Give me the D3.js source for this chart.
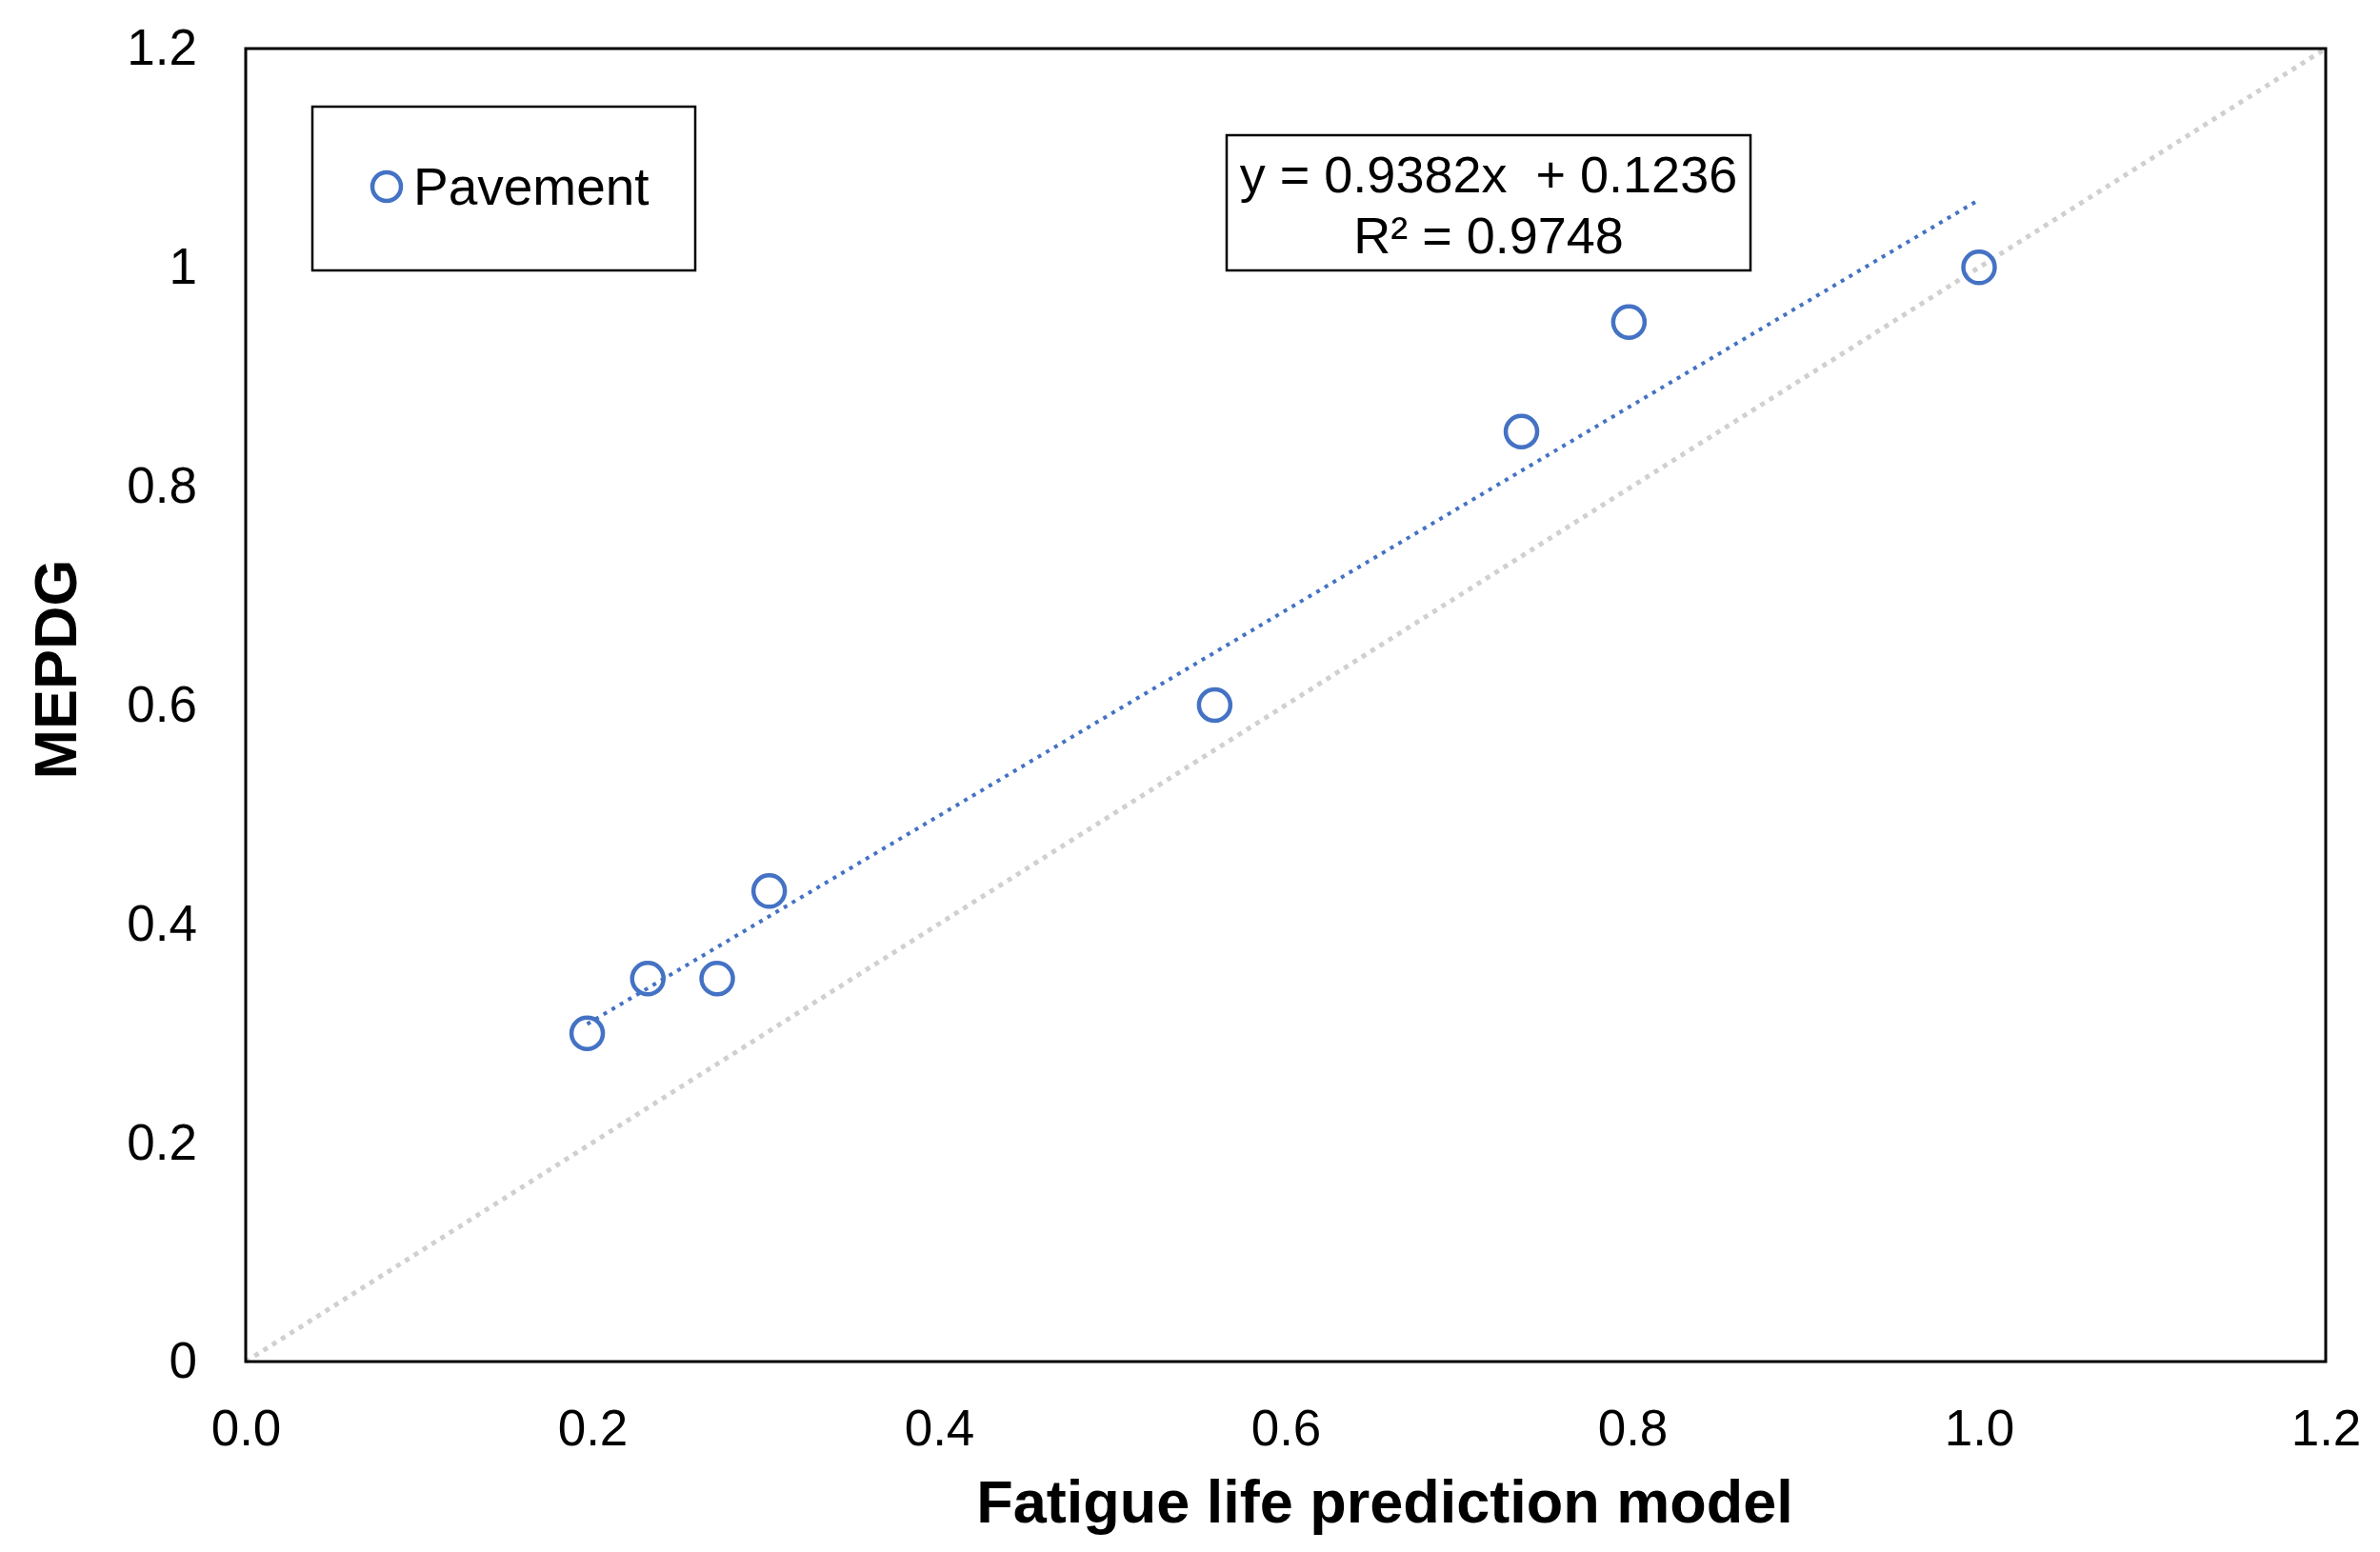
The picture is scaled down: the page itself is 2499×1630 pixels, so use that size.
<!DOCTYPE html>
<html>
<head>
<meta charset="utf-8">
<script src="https://cdn.jsdelivr.net/npm/d3@7"></script>
<style>
  body { margin: 0; background: #fff; }
  svg { display: block; }
</style>
</head>
<body>
<svg id="chart" width="2499" height="1630"></svg>
<script>
// data
var seriesName = "Pavement";
var fatigueX = [0.197, 0.232, 0.272, 0.302, 0.559, 0.736, 0.798, 1.0];
var mepdgY   = [0.30, 0.35, 0.35, 0.43, 0.60, 0.85, 0.95, 1.0];
var xTicks = [0, 0.2, 0.4, 0.6, 0.8, 1.0, 1.2];
var yTicks = [0, 0.2, 0.4, 0.6, 0.8, 1.0, 1.2];
var trendSlope = 0.9382, trendIntercept = 0.1236, trendR2 = 0.9748;
var identityLine = [0, 1.2];

var svg = d3.select("#chart");
var font = "'Liberation Sans', Arial, sans-serif";
var blue = "#4472C4";

// plot area edges (note: "top" is reserved on window, so plotTop etc.)
var plotLeft = 258, plotRight = 2442, plotTop = 51, plotBottom = 1430;

var x = d3.scaleLinear().domain([0, 1.2]).range([plotLeft, plotRight]);
var y = d3.scaleLinear().domain([0, 1.2]).range([plotBottom, plotTop]);

// 1:1 line, light grey dots
svg.append("line")
  .attr("x1", x(identityLine[0])).attr("y1", y(identityLine[0]))
  .attr("x2", x(identityLine[1])).attr("y2", y(identityLine[1]))
  .style("stroke", "#d0d0d0")
  .style("stroke-width", 5)
  .style("stroke-dasharray", "5,6");

// linear trendline over the data range
var xMin = d3.min(fatigueX), xMax = d3.max(fatigueX);
svg.append("line")
  .attr("x1", x(xMin)).attr("y1", y(trendSlope * xMin + trendIntercept))
  .attr("x2", x(xMax)).attr("y2", y(trendSlope * xMax + trendIntercept))
  .style("stroke", blue)
  .style("stroke-width", 4)
  .style("stroke-dasharray", "4,6");

// plot frame
svg.append("rect")
  .attr("x", plotLeft).attr("y", plotTop)
  .attr("width", plotRight - plotLeft).attr("height", plotBottom - plotTop)
  .style("fill", "none")
  .style("stroke", "#000")
  .style("stroke-width", 3);

// axes (labels only, frame draws the lines)
var xAxis = svg.append("g")
  .attr("transform", "translate(0," + plotBottom + ")")
  .call(d3.axisBottom(x).tickValues(xTicks).tickSize(0).tickPadding(50)
    .tickFormat(function(d) { return d.toFixed(1); }));
var yAxis = svg.append("g")
  .attr("transform", "translate(" + plotLeft + ",0)")
  .call(d3.axisLeft(y).tickValues(yTicks).tickSize(0).tickPadding(51)
    .tickFormat(function(d) { return String(+d.toFixed(1)); }));
[xAxis, yAxis].forEach(function(g) {
  g.select(".domain").remove();
  g.selectAll("text")
    .style("font-family", font)
    .style("font-size", "53px")
    .style("fill", "#000");
});

// points
var pts = fatigueX.map(function(v, i) { return [v, mepdgY[i]]; });
svg.selectAll(".pt")
  .data(pts)
  .enter().append("circle")
  .attr("class", "pt")
  .attr("cx", function(d) { return x(d[0]); })
  .attr("cy", function(d) { return y(d[1]); })
  .attr("r", 16.5)
  .style("fill", "none")
  .style("stroke", blue)
  .style("stroke-width", 4.5);

// legend
svg.append("rect")
  .attr("x", 328).attr("y", 112).attr("width", 402).attr("height", 172)
  .style("fill", "#fff").style("stroke", "#000").style("stroke-width", 2.5);
svg.append("circle")
  .attr("cx", 406).attr("cy", 196).attr("r", 15)
  .style("fill", "none").style("stroke", blue).style("stroke-width", 4.5);
svg.append("text")
  .attr("x", 434).attr("y", 215)
  .style("font-family", font).style("font-size", "55px")
  .text(seriesName);

// trendline equation box
svg.append("rect")
  .attr("x", 1288).attr("y", 142).attr("width", 550).attr("height", 142)
  .style("fill", "#fff").style("stroke", "#000").style("stroke-width", 2.5);
var eq = svg.append("text")
  .attr("text-anchor", "middle")
  .style("font-family", font).style("font-size", "54px")
  .style("white-space", "pre");
eq.append("tspan").attr("x", 1563).attr("y", 202)
  .text("y = " + trendSlope + "x  + " + trendIntercept);
eq.append("tspan").attr("x", 1563).attr("y", 266)
  .text("R\u00b2 = " + trendR2);

// axis titles
svg.append("text")
  .attr("x", 1454).attr("y", 1599)
  .attr("text-anchor", "middle")
  .style("font-family", font).style("font-size", "63px").style("font-weight", "bold")
  .text("Fatigue life prediction model");
svg.append("text")
  .attr("transform", "translate(80,703) rotate(-90)")
  .attr("text-anchor", "middle")
  .style("font-family", font).style("font-size", "63px").style("font-weight", "bold")
  .text("MEPDG");
</script>
</body>
</html>
